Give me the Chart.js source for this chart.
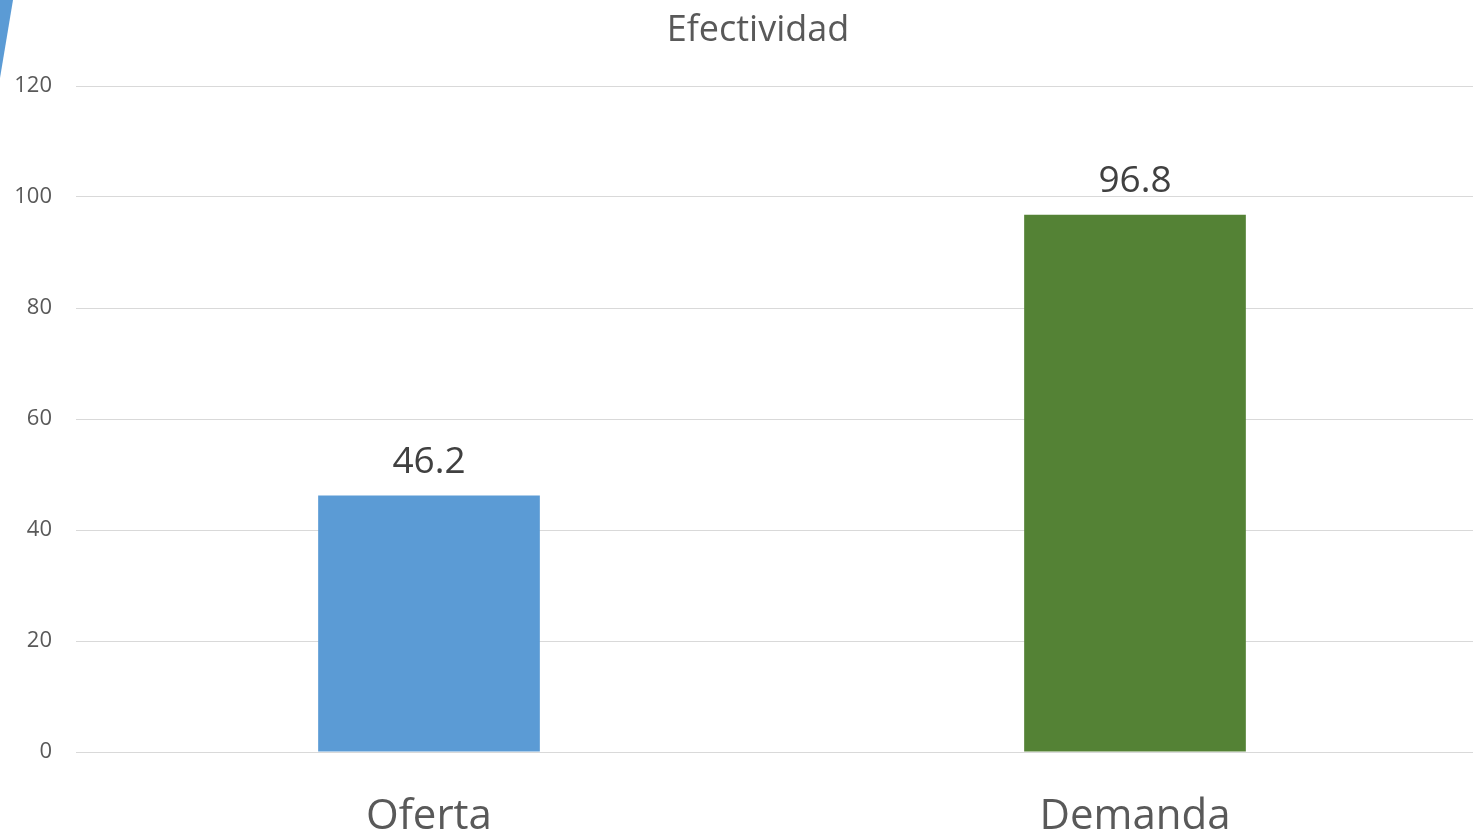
<!DOCTYPE html>
<html>
<head>
<meta charset="utf-8">
<script src="https://cdn.jsdelivr.net/npm/chart.js@4"></script>
<style>
    html, body { margin: 0; padding: 0; background: #fff; overflow: hidden; }
    #wrap { width: 1488px; height: 836px; }
</style>
</head>
<body>
<div id="wrap"><canvas id="efectividadChart" width="1488" height="836"></canvas></div>
<script>
// Datos del gráfico
const categorias = ['Oferta', 'Demanda'];
const valores = [46.2, 96.8];
const coloresBarra = ['#5B9BD5', '#548235'];
const ticksY = [0, 20, 40, 60, 80, 100, 120];
const titulo = 'Efectividad';

const FONT = '"Open Sans", "Noto Sans", sans-serif';

// Titulo y decoracion de la diapositiva
const tituloPlugin = {
    id: 'tituloPlugin',
    beforeDraw(chart) {
        const ctx = chart.ctx;
        ctx.save();
        ctx.fillStyle = '#5B9BD5';
        ctx.beginPath();
        ctx.moveTo(0, 0);
        ctx.lineTo(13, 0);
        ctx.lineTo(0, 78);
        ctx.closePath();
        ctx.fill();
        ctx.fillStyle = '#595959';
        ctx.font = '36px ' + FONT;
        ctx.textAlign = 'center';
        ctx.textBaseline = 'alphabetic';
        ctx.fillText(titulo, 758, 41);
        ctx.restore();
    }
};

// Etiquetas de valor encima de cada barra
const etiquetasPlugin = {
    id: 'etiquetasPlugin',
    afterDatasetsDraw(chart) {
        const ctx = chart.ctx;
        const meta = chart.getDatasetMeta(0);
        ctx.save();
        ctx.fillStyle = '#404040';
        ctx.font = '37px ' + FONT;
        ctx.textAlign = 'center';
        ctx.textBaseline = 'alphabetic';
        meta.data.forEach((bar, i) => {
            ctx.fillText(valores[i].toFixed(1), bar.x, bar.y - 23);
        });
        ctx.restore();
    }
};

const ctx = document.getElementById('efectividadChart').getContext('2d');
new Chart(ctx, {
    type: 'bar',
    data: {
        labels: categorias,
        datasets: [{
            label: titulo,
            data: valores,
            backgroundColor: coloresBarra,
            borderWidth: 0,
            barPercentage: 0.314,
            categoryPercentage: 1
        }]
    },
    options: {
        responsive: false,
        animation: false,
        layout: { padding: { top: 86, right: 0, left: 0, bottom: 0 } },
        plugins: {
            legend: { display: false },
            tooltip: { enabled: false },
            title: { display: false }
        },
        scales: {
            y: {
                min: 0,
                max: 120,
                afterBuildTicks(scale) {
                    scale.ticks = ticksY.map(v => ({ value: v }));
                },
                afterFit(scale) { scale.width = 76; },
                border: { display: false },
                grid: { color: '#D9D9D9', lineWidth: 1, drawTicks: false },
                ticks: {
                    padding: 24,
                    color: '#595959',
                    font: { family: FONT, size: 22 }
                }
            },
            x: {
                afterFit(scale) { scale.height = 84; },
                border: { display: true, color: '#D9D9D9' },
                grid: { display: false, drawTicks: false },
                ticks: {
                    padding: 40,
                    color: '#595959',
                    font: { family: FONT, size: 42 }
                }
            }
        }
    },
    plugins: [tituloPlugin, etiquetasPlugin]
});
</script>
</body>
</html>
